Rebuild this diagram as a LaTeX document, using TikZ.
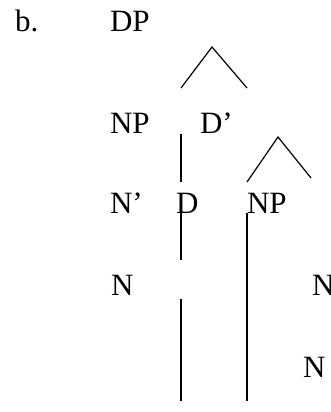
\documentclass[tikz,border=0pt]{standalone}
\usepackage{fontspec}
\setmainfont{Liberation Serif}
\begin{document}
\begin{tikzpicture}[x=1pt,y=-1pt,
  lbl/.style={anchor=base west,inner sep=0pt,outer sep=0pt,font=\fontsize{31}{36}\selectfont},
  branch/.style={line width=1.2pt}]
\useasboundingbox (0,0) rectangle (330,412);
% labels
\node[lbl] (b)   at (15,32)  {b.};
\node[lbl] (dp)  at (110,32) {DP};
\node[lbl] (np1) at (110,133) {NP};
\node[lbl] (dbar) at (200,133) {D’};
\node[lbl] (nbar) at (110,213) {N’};
\node[lbl] (d)   at (176,213) {D};
\node[lbl] (np2) at (247,213) {NP};
\node[lbl] (n1)  at (111,295) {N};
\node[lbl] (n2)  at (312,295) {N};
\node[lbl] (n3)  at (303,377) {N};
% connector end points
\coordinate (t1a) at (212,47);
\coordinate (t1l) at (181,88);
\coordinate (t1r) at (247,88);
\coordinate (v1t) at (181,134);
\coordinate (v1b) at (181,182);
\coordinate (t2a) at (278,137);
\coordinate (t2l) at (247,182);
\coordinate (t2r) at (311,178);
\coordinate (v2t) at (181,213);
\coordinate (v2b) at (181,260);
\coordinate (v3t) at (247,213);
\coordinate (v3b) at (247,401);
\coordinate (v4t) at (181,299);
\coordinate (v4b) at (181,401);
% connectors
\draw[branch] (t1l) -- (t1a) -- (t1r);
\draw[branch] (v1t) -- (v1b);
\draw[branch] (t2l) -- (t2a) -- (t2r);
\draw[branch] (v2t) -- (v2b);
\draw[branch] (v3t) -- (v3b);
\draw[branch] (v4t) -- (v4b);
\end{tikzpicture}
\end{document}
